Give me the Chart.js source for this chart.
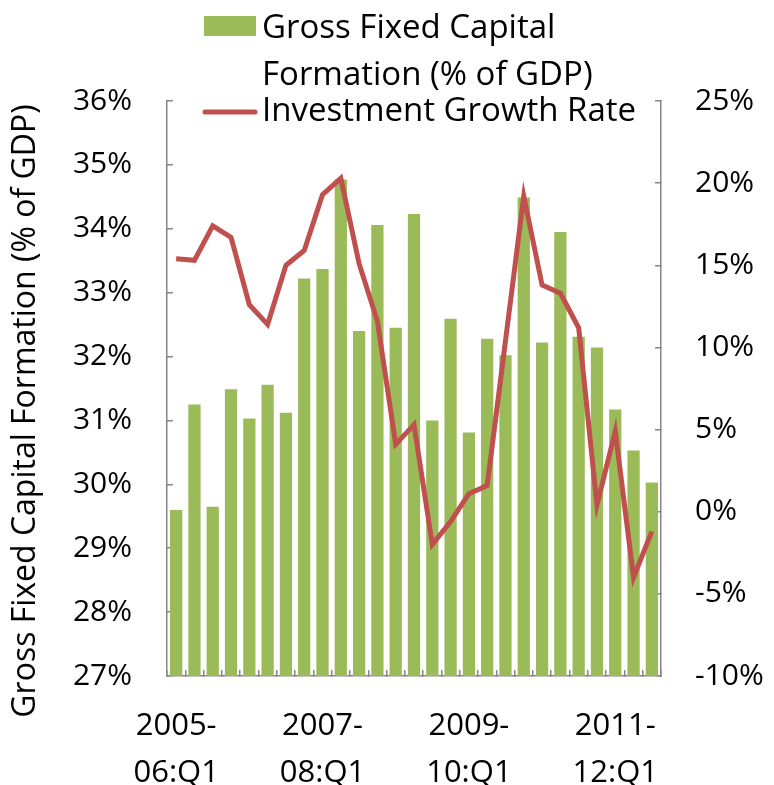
<!DOCTYPE html>
<html lang="en">
<head>
  <meta charset="UTF-8">
  <title>Gross Fixed Capital Formation and Investment Growth</title>
  <script src="https://cdn.jsdelivr.net/npm/chart.js"></script>
  <style>
    body { margin: 0; background: #fff; }
  </style>
</head>
<body>
  <canvas id="myChart" width="774" height="785"></canvas>

  <script>
    // quarters (Indian fiscal years)
    const quarters = [
      '2005-06:Q1', '2005-06:Q2', '2005-06:Q3', '2005-06:Q4',
      '2006-07:Q1', '2006-07:Q2', '2006-07:Q3', '2006-07:Q4',
      '2007-08:Q1', '2007-08:Q2', '2007-08:Q3', '2007-08:Q4',
      '2008-09:Q1', '2008-09:Q2', '2008-09:Q3', '2008-09:Q4',
      '2009-10:Q1', '2009-10:Q2', '2009-10:Q3', '2009-10:Q4',
      '2010-11:Q1', '2010-11:Q2', '2010-11:Q3', '2010-11:Q4',
      '2011-12:Q1', '2011-12:Q2', '2011-12:Q3'
    ];

    // gross fixed capital formation, % of GDP (left axis)
    const gfcf = [
      29.60, 31.25, 29.65, 31.49, 31.03, 31.56, 31.12, 33.22,
      33.37, 34.77, 32.40, 34.06, 32.45, 34.23, 31.00, 32.59,
      30.81, 32.28, 32.02, 34.49, 32.22, 33.95, 32.31, 32.14,
      31.17, 30.53, 30.03
    ];

    // investment growth rate, % (right axis)
    const growth = [
      15.4, 15.3, 17.4, 16.7, 12.6, 11.4, 15.0, 15.9,
      19.3, 20.3, 15.1, 11.6, 4.1, 5.3, -2.0, -0.6,
      1.1, 1.6, 10.4, 19.2, 13.8, 13.3, 11.2, 0.4,
      4.9, -4.0, -1.2
    ];

    const legendLabels = ['Gross Fixed Capital', 'Formation (% of GDP)', 'Investment Growth Rate'];
    const yTitle = 'Gross Fixed Capital Formation (% of GDP)';

    const green = '#9BBB59';
    const red = '#C0504D';
    const axisGray = '#868686';
    const fontFamily = '"Open Sans", sans-serif';

    // legend and left title drawn by hand so they sit where the original puts them
    const legendPlugin = {
      id: 'handLegend',
      afterDraw(chart) {
        const c = chart.ctx;
        c.save();
        c.fillStyle = green;
        c.fillRect(204, 16, 52, 20);
        c.strokeStyle = red;
        c.lineWidth = 5;
        c.lineCap = 'round';
        c.beginPath();
        c.moveTo(205, 112);
        c.lineTo(255, 112);
        c.stroke();
        c.fillStyle = '#000';
        c.font = '33px ' + fontFamily;
        c.textBaseline = 'alphabetic';
        c.fillText(legendLabels[0], 262, 38);
        c.fillText(legendLabels[1], 262, 85);
        c.fillText(legendLabels[2], 262, 121);

        // rotated y title, centred a little below the axis middle as in the original
        c.translate(26, 411);
        c.rotate(-Math.PI / 2);
        c.font = '32px ' + fontFamily;
        c.textAlign = 'center';
        c.textBaseline = 'middle';
        c.fillText(yTitle, 0, 0);
        c.restore();
      }
    };

    const data = {
      labels: quarters,
      datasets: [
        {
          type: 'line',
          label: 'Investment Growth Rate',
          data: growth,
          yAxisID: 'y1',
          borderColor: red,
          borderWidth: 5,
          pointRadius: 0,
          tension: 0,
          fill: false,
          order: 0
        },
        {
          type: 'bar',
          label: 'Gross Fixed Capital Formation (% of GDP)',
          data: gfcf,
          yAxisID: 'y',
          backgroundColor: green,
          categoryPercentage: 1,
          barPercentage: 0.67,
          order: 1
        }
      ]
    };

    const options = {
      responsive: false,
      animation: false,
      layout: { padding: { top: 101, left: 0, right: 0, bottom: 0 } },
      plugins: {
        legend: { display: false },
        tooltip: { enabled: false }
      },
      scales: {
        x: {
          offset: true,
          grid: { drawOnChartArea: false, tickLength: -6, color: axisGray, lineWidth: 1.5, offset: true },
          border: { color: axisGray, width: 1.5 },
          ticks: {
            autoSkip: false,
            maxRotation: 0,
            padding: 33,
            color: '#000',
            font: { family: fontFamily, size: 31, lineHeight: 1.5 },
            callback: function (value, index) {
              if (index % 8 !== 0) return '';
              const lab = quarters[index];
              const cut = lab.indexOf('-') + 1;
              return [lab.slice(0, cut), lab.slice(cut)];
            }
          },
          afterFit(scale) { scale.height = 109; }
        },
        y: {
          position: 'left',
          min: 27,
          max: 36,
          grid: { drawOnChartArea: false, tickLength: -6, color: axisGray, lineWidth: 1.5 },
          border: { color: axisGray, width: 1.5 },
          ticks: {
            stepSize: 1,
            padding: 41,
            color: '#000',
            font: { family: fontFamily, size: 30 },
            callback: v => v + '%'
          },
          afterFit(scale) { scale.width = 167; }
        },
        y1: {
          position: 'right',
          min: -10,
          max: 25,
          grid: { drawOnChartArea: false, tickLength: -6, color: axisGray, lineWidth: 1.5 },
          border: { color: axisGray, width: 1.5 },
          ticks: {
            stepSize: 5,
            padding: 40,
            color: '#000',
            font: { family: fontFamily, size: 30 },
            callback: v => v + '%'
          },
          afterFit(scale) { scale.width = 113; }
        }
      }
    };

    const ctx = document.getElementById('myChart').getContext('2d');
    const myChart = new Chart(ctx, {
      type: 'bar',
      data: data,
      options: options,
      plugins: [legendPlugin]
    });
  </script>
</body>
</html>
